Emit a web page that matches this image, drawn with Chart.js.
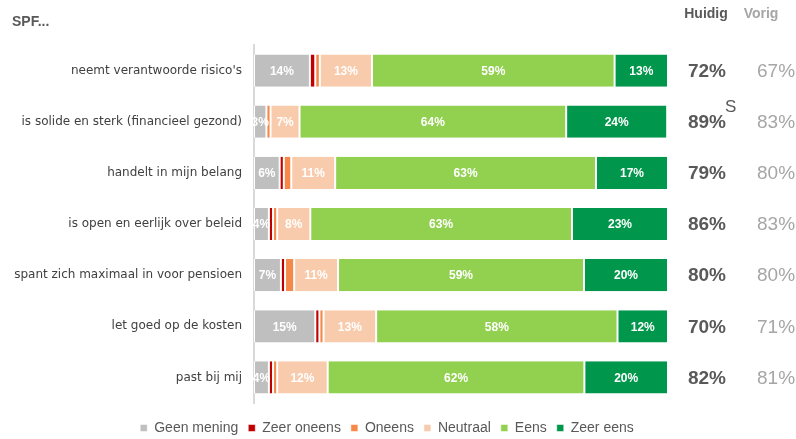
<!DOCTYPE html>
<html>
<head>
<meta charset="utf-8">
<script src="https://cdn.jsdelivr.net/npm/chart.js@4/dist/chart.umd.min.js"></script>
<style>
	body { margin: 0; background: #fff; }
	#wrap { width: 796px; height: 439px; position: relative; }
</style>
</head>
<body>
<div id="wrap"><canvas id="chart"></canvas></div>
<script>
var categories = [
	"neemt verantwoorde risico's",
	"is solide en sterk (financieel gezond)",
	"handelt in mijn belang",
	"is open en eerlijk over beleid",
	"spant zich maximaal in voor pensioen",
	"let goed op de kosten",
	"past bij mij"
];
var geenMening = [13.5, 3, 6.2, 3.6, 6.5, 14.8, 3.6];
var zeerOneens = [1.3, 0, 1, 1, 1, 1, 1];
var oneens = [1.1, 1, 1.8, 1, 2.2, 1, 1];
var neutraal = [12.6, 7, 10.6, 8, 10.6, 12.7, 12.2];
var eens = [58.6, 64.4, 63, 63.2, 59.4, 58.3, 62];
var zeerEens = [12.9, 24.4, 17.4, 23.2, 20.3, 12.2, 20.2];

var huidig = [72, 89, 79, 86, 80, 70, 82];
var vorig = [67, 83, 80, 83, 80, 71, 81];
var significant = ['', 'S', '', '', '', '', ''];

var font = "'Liberation Sans', Arial, sans-serif";

function serie(label, data, color) {
	return {
		label: label,
		data: data,
		backgroundColor: color,
		borderColor: '#ffffff',
		borderWidth: { left: 1, right: 1, top: 0, bottom: 0 },
		borderSkipped: false,
		barPercentage: 0.63,
		categoryPercentage: 1
	};
}

// percentages inside the bars
var barLabels = {
	id: 'barLabels',
	afterDatasetsDraw: function(chart) {
		var ctx = chart.ctx;
		ctx.save();
		ctx.font = 'bold 12px ' + font;
		ctx.fillStyle = '#ffffff';
		ctx.textAlign = 'center';
		ctx.textBaseline = 'middle';
		chart.data.datasets.forEach(function(ds, i) {
			chart.getDatasetMeta(i).data.forEach(function(el, j) {
				var v = ds.data[j];
				if (v < 3) return;
				var p = el.getCenterPoint();
				ctx.fillText(Math.round(v) + '%', p.x, p.y + 1);
			});
		});
		ctx.restore();
	}
};

// title, Huidig / Vorig columns
var extras = {
	id: 'extras',
	afterDraw: function(chart) {
		var ctx = chart.ctx;
		var y = chart.scales.y;
		ctx.save();
		ctx.textBaseline = 'middle';
		ctx.fillStyle = '#595959';
		ctx.font = 'bold 14px ' + font;
		ctx.textAlign = 'left';
		ctx.fillText('SPF...', 12, 22);
		ctx.textAlign = 'center';
		ctx.fillText('Huidig', 706, 14);
		ctx.fillStyle = '#A6A6A6';
		ctx.fillText('Vorig', 761, 14);

		categories.forEach(function(c, i) {
			var py = y.getPixelForValue(i);
			ctx.font = 'bold 19px ' + font;
			ctx.fillStyle = '#595959';
			ctx.textAlign = 'center';
			ctx.fillText(huidig[i] + '%', 707, py + 1);
			if (significant[i]) {
				var w = ctx.measureText(huidig[i] + '%').width;
				ctx.font = '17px ' + font;
				ctx.textAlign = 'left';
				ctx.fillText(significant[i], 706 + w / 2, py - 14);
			}
			ctx.font = '19px ' + font;
			ctx.fillStyle = '#A6A6A6';
			ctx.textAlign = 'left';
			ctx.fillText(vorig[i] + '%', 757, py + 1);
		});
		ctx.restore();
	}
};

var chart = new Chart(document.getElementById('chart'), {
	type: 'bar',
	data: {
		labels: categories,
		datasets: [
			serie('Geen mening', geenMening, '#BFBFBF'),
			serie('Zeer oneens', zeerOneens, '#C00000'),
			serie('Oneens', oneens, '#F4894A'),
			serie('Neutraal', neutraal, '#F8CBAD'),
			serie('Eens', eens, '#92D050'),
			serie('Zeer eens', zeerEens, '#00964B')
		]
	},
	options: {
		indexAxis: 'y',
		responsive: true,
		maintainAspectRatio: false,
		devicePixelRatio: 1,
		animation: false,
		// right side kept narrow so the legend centres under the bars like the original;
		// the x max leaves room for the Huidig / Vorig columns
		layout: { padding: { top: 45, right: 22, left: 0, bottom: -6 } },
		scales: {
			x: {
				stacked: true,
				min: 0,
				max: 125.6,
				grid: { display: false },
				border: { display: false },
				ticks: { display: false },
				afterFit: function(scale) { scale.height = 8; }
			},
			y: {
				stacked: true,
				grid: { display: false, drawTicks: false },
				border: { display: true, color: '#D9D9D9', width: 2 },
				ticks: {
					color: '#404040',
					font: { family: "'DejaVu Sans', sans-serif", size: 12 },
					padding: 12
				},
				afterFit: function(scale) { scale.width = 254; }
			}
		},
		plugins: {
			legend: {
				position: 'bottom',
				labels: {
					usePointStyle: true,
					pointStyle: 'rect',
					boxWidth: 7,
					boxHeight: 7,
					color: '#595959',
					font: { family: font, size: 14 },
					padding: 10
				}
			},
			tooltip: { enabled: false }
		}
	},
	plugins: [barLabels, extras]
});
</script>
</body>
</html>
